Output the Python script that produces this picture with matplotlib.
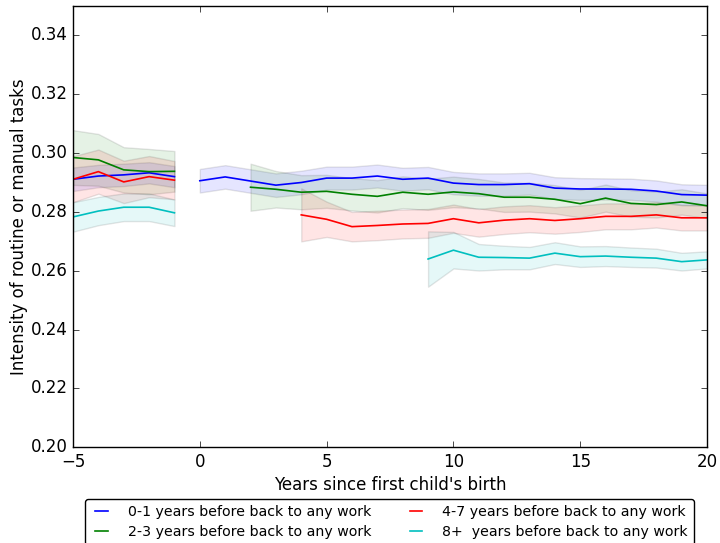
import matplotlib
matplotlib.use('Agg')
import matplotlib.pyplot as plt

plt.style.use('classic')

years_pre = [-5, -4, -3, -2, -1]

# 0-1 years before back to any work
blue_pre = [0.2911, 0.2922, 0.2926, 0.2933, 0.2920]
blue_pre_hw = [0.0040, 0.0038, 0.0038, 0.0036, 0.0036]
blue_years = list(range(0, 21))
blue_post = [0.2906, 0.2919, 0.2905, 0.2891, 0.2900, 0.2915, 0.2915, 0.2922, 0.2911, 0.2915, 0.2898,
             0.2893, 0.2893, 0.2896, 0.2881, 0.2878, 0.2878, 0.2877, 0.2871, 0.2859, 0.2857]
blue_post_hw = [0.0040, 0.0040, 0.0040, 0.0040, 0.0040, 0.0039, 0.0039, 0.0039, 0.0039, 0.0038, 0.0038,
                0.0038, 0.0038, 0.0037, 0.0037, 0.0037, 0.0036, 0.0036, 0.0036, 0.0035, 0.0035]

# 2-3 years before back to any work
green_pre = [0.2985, 0.2977, 0.2943, 0.2937, 0.2938]
green_pre_hw = [0.0093, 0.0088, 0.0077, 0.0077, 0.0069]
green_years = list(range(2, 21))
green_post = [0.2884, 0.2877, 0.2867, 0.2870, 0.2860, 0.2853, 0.2867, 0.2860, 0.2868, 0.2862,
              0.2850, 0.2850, 0.2843, 0.2828, 0.2847, 0.2829, 0.2825, 0.2834, 0.2821]
green_post_hw = [0.0080, 0.0062, 0.0058, 0.0056, 0.0055, 0.0055, 0.0054, 0.0053, 0.0052, 0.0050,
                 0.0050, 0.0049, 0.0048, 0.0047, 0.0046, 0.0045, 0.0044, 0.0043, 0.0042]

# 4-7 years before back to any work
red_pre = [0.2911, 0.2937, 0.2902, 0.2920, 0.2908]
red_pre_hw = [0.0078, 0.0075, 0.0072, 0.0070, 0.0065]
red_years = list(range(4, 21))
red_post = [0.2790, 0.2775, 0.2750, 0.2754, 0.2759, 0.2761, 0.2777, 0.2763, 0.2772, 0.2777,
            0.2771, 0.2777, 0.2785, 0.2785, 0.2790, 0.2780, 0.2780]
red_post_hw = [0.0090, 0.0060, 0.0050, 0.0050, 0.0049, 0.0049, 0.0048, 0.0047, 0.0047, 0.0046,
               0.0045, 0.0045, 0.0044, 0.0044, 0.0043, 0.0043, 0.0043]

# 8+ years before back to any work
cyan_pre = [0.2783, 0.2803, 0.2816, 0.2816, 0.2797]
cyan_pre_hw = [0.0050, 0.0048, 0.0047, 0.0047, 0.0045]
cyan_years = list(range(9, 21))
cyan_post = [0.2640, 0.2670, 0.2646, 0.2645, 0.2643, 0.2660, 0.2648, 0.2650, 0.2646, 0.2643, 0.2631, 0.2637]
cyan_post_hw = [0.0094, 0.0062, 0.0045, 0.0040, 0.0038, 0.0037, 0.0035, 0.0034, 0.0033, 0.0032, 0.0030, 0.0029]

labels = ['0-1 years before back to any work', '2-3 years before back to any work',
          '4-7 years before back to any work', '8+  years before back to any work']


def draw(ax, x, y, hw, color, label=None):
    ax.plot(x, y, color=color, label=label, linewidth=1.2)
    lo = [v - h for v, h in zip(y, hw)]
    hi = [v + h for v, h in zip(y, hw)]
    ax.fill_between(x, lo, hi, color=color, alpha=0.1, edgecolor='k')


def main():
    fig = plt.figure(figsize=(7.2, 5.43), dpi=100, facecolor='w')
    ax = fig.add_axes([0.1014, 0.1762, 0.8806, 0.8128])

    series = [
        (blue_pre, blue_pre_hw, blue_years, blue_post, blue_post_hw, 'b'),
        (green_pre, green_pre_hw, green_years, green_post, green_post_hw, 'g'),
        (red_pre, red_pre_hw, red_years, red_post, red_post_hw, 'r'),
        (cyan_pre, cyan_pre_hw, cyan_years, cyan_post, cyan_post_hw, 'c'),
    ]
    for (pre, pre_hw, yrs, post, post_hw, c), lab in zip(series, labels):
        draw(ax, years_pre, pre, pre_hw, c, label=lab)
        draw(ax, yrs, post, post_hw, c)

    ax.set_xlim(-5, 20)
    ax.set_ylim(0.20, 0.35)
    ax.set_yticks([0.20, 0.22, 0.24, 0.26, 0.28, 0.30, 0.32, 0.34])
    ax.set_xlabel("Years since first child's birth", labelpad=4)
    ax.set_ylabel('Intensity of routine or manual tasks', labelpad=1.5)

    ax.legend(loc='upper center', bbox_to_anchor=(0.541, 0.094), bbox_transform=fig.transFigure,
              ncol=2, fontsize=10.2, handlelength=1.5, handletextpad=1.1, columnspacing=2.4,
              labelspacing=0.45, fancybox=True)

    fig.savefig('out.png', dpi=100, facecolor='w')


if __name__ == "__main__":
    main()
